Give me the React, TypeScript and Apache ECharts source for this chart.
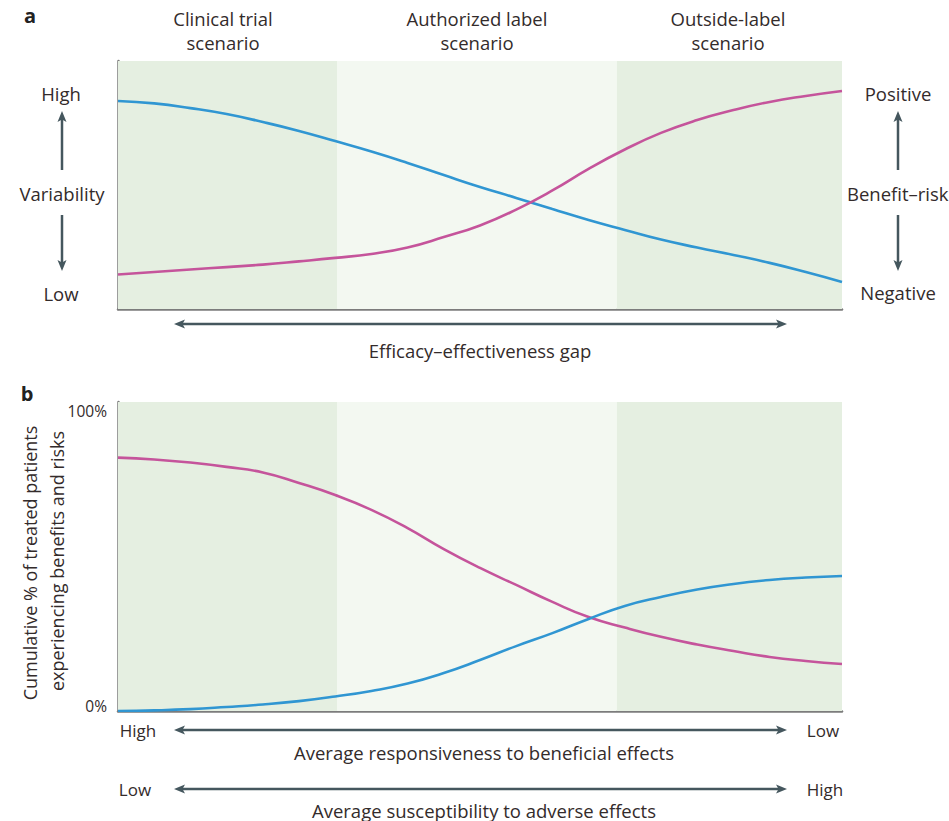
import React, { useEffect, useRef } from "react";
import * as echarts from "echarts";

// shared x positions (0 = left edge of plot, 100 = right edge)
const xs = [0, 5, 10, 15, 20, 25, 30, 35, 40, 45, 50, 55, 60, 65, 70, 75, 80, 85, 90, 95, 100];

// Panel a
const benefitRiskA = [83.9, 82.9, 81.0, 78.6, 75.4, 71.8, 67.7, 63.5, 58.9, 54.0, 49.2, 44.8, 40.3, 35.9, 31.9, 28.0, 24.8, 21.8, 18.6, 14.9, 10.9];
const variabilityA = [13.9, 14.9, 15.9, 16.9, 17.9, 19.2, 20.6, 22.2, 24.8, 29.0, 33.7, 40.1, 47.8, 56.5, 64.3, 71.0, 76.2, 80.2, 83.5, 85.9, 87.9];

// Panel b (% of treated patients)
const benefitsB = [82.0, 81.4, 80.4, 79.0, 77.2, 73.8, 69.9, 65.1, 59.2, 52.4, 46.3, 40.8, 35.3, 30.4, 27.0, 24.0, 21.5, 19.4, 17.5, 16.2, 15.2];
const risksB = [0, 0.2, 0.6, 1.3, 2.1, 3.2, 4.7, 6.5, 8.9, 12.3, 16.5, 21.0, 25.2, 29.8, 34.0, 36.9, 39.3, 41.1, 42.4, 43.2, 43.7];

// scenario bands (x range)
const bandEdges = [0, 30.25, 68.9, 100];
const scenarios = [["Clinical trial", "scenario"], ["Authorized label", "scenario"], ["Outside-label", "scenario"]];
const yTicksB = [0, 100];

const TEXT = "#332b2b";
const ARROW = "#45575e";
const AXIS = "#7c7c7c";
const BLUE = "#3096d2";
const PINK = "#c5549b";
const BAND_DARK = "#e5efe1";
const BAND_LIGHT = "#f3f8f1";
const FONT = "'Open Sans', Lato, sans-serif";

const pairs = (ys: number[]) => xs.map((x, i) => [x, ys[i]]);

function txt(text: string, x: number, y: number, opts: any = {}) {
  return {
    type: "text",
    x,
    y,
    rotation: opts.rotation || 0,
    style: {
      text,
      fill: opts.fill || TEXT,
      font: `${opts.weight || "normal"} ${opts.size || 18.5}px ${FONT}`,
      textAlign: opts.align || "center",
      textVerticalAlign: "middle",
    },
  };
}

function head(tx: number, ty: number, dx: number, dy: number) {
  const L = 11, W = 4.5;
  const bx = tx - dx * L, by = ty - dy * L;
  const px = -dy, py = dx;
  return {
    type: "polygon",
    shape: { points: [[tx, ty], [bx + px * W, by + py * W], [bx + dx * 2.5, by + dy * 2.5], [bx - px * W, by - py * W]] },
    style: { fill: ARROW },
  };
}

function vArrow(x: number, yFrom: number, yTip: number) {
  const d = yTip > yFrom ? 1 : -1;
  return [
    { type: "line", shape: { x1: x, y1: yFrom, x2: x, y2: yTip - d * 6 }, style: { stroke: ARROW, lineWidth: 2.5 } },
    head(x, yTip, 0, d),
  ];
}

function hDouble(x1: number, x2: number, y: number) {
  return [
    { type: "line", shape: { x1: x1 + 6, y1: y, x2: x2 - 6, y2: y }, style: { stroke: ARROW, lineWidth: 2.5 } },
    head(x1, y, -1, 0),
    head(x2, y, 1, 0),
  ];
}

function bandArea() {
  const cols = [BAND_DARK, BAND_LIGHT, BAND_DARK];
  return {
    silent: true,
    data: cols.map((c, i) => [
      { xAxis: bandEdges[i], itemStyle: { color: c } },
      { xAxis: bandEdges[i + 1] },
    ]),
  };
}

export default function App() {
  const ref = useRef<HTMLDivElement>(null);
  useEffect(() => {
    if (!ref.current) return;
    const chart = echarts.init(ref.current, null, { renderer: "svg" });
    const axisLine = { show: true, lineStyle: { color: AXIS, width: 2.5 } };
    const xAxisBase = {
      type: "value",
      min: 0,
      max: 100,
      axisLine: { ...axisLine, onZero: false },
      axisTick: { show: false },
      axisLabel: { show: false },
      splitLine: { show: false },
    };
    const lineSeries = (name: string, data: number[], color: string, idx: number) => ({
      name,
      type: "line",
      xAxisIndex: idx,
      yAxisIndex: idx,
      data: pairs(data),
      smooth: 0.5,
      showSymbol: false,
      lineStyle: { color, width: 2.6 },
      z: 3,
    });

    const scenarioCx = [223, 477, 728];
    const scenarioText = scenarios.flatMap((s, i) => [
      txt(s[0], scenarioCx[i], 18),
      txt(s[1], scenarioCx[i], 42),
    ]);

    const graphic: any[] = [
      txt("a", 30, 15, { weight: "bold", size: 20, fill: "#222" }),
      txt("b", 27, 393, { weight: "bold", size: 20, fill: "#222" }),
      ...scenarioText,
      // panel a left scale
      txt("High", 61, 93),
      ...vArrow(62, 170, 111),
      txt("Variability", 62, 193),
      ...vArrow(62, 215, 271),
      txt("Low", 61, 293),
      // panel a right scale
      txt("Positive", 898, 93),
      ...vArrow(898, 170, 111),
      txt("Benefit\u2013risk", 847, 193, { align: "left" }),
      ...vArrow(898, 215, 271),
      txt("Negative", 898, 292),
      // series labels
      txt("Benefit\u2013risk", 146, 93, { align: "left" }),
      txt("Variability", 146, 252, { align: "left" }),
      txt("Benefits", 162, 442, { align: "left" }),
      txt("Risks", 833, 560, { align: "right" }),
      // gap arrow
      ...hDouble(174, 787, 324),
      txt("Efficacy\u2013effectiveness gap", 480, 350),
      // y title b
      txt("Cumulative % of treated patients", 30, 563, { rotation: Math.PI / 2, size: 18 }),
      txt("experiencing benefits and risks", 57, 561, { rotation: Math.PI / 2, size: 18 }),
      // bottom scales
      txt("High", 138, 730, { size: 17 }),
      ...hDouble(174, 787, 730),
      txt("Low", 823, 730, { size: 17 }),
      txt("Average responsiveness to beneficial effects", 484, 752),
      txt("Low", 135, 789, { size: 17 }),
      ...hDouble(174, 787, 789),
      txt("High", 825, 789, { size: 17 }),
      txt("Average susceptibility to adverse effects", 484, 810),
    ];

    chart.setOption({
      animation: false,
      backgroundColor: "#ffffff",
      textStyle: { fontFamily: FONT },
      grid: [
        { left: 118, top: 61, width: 724, height: 248 },
        { left: 118, top: 402, width: 724, height: 309 },
      ],
      xAxis: [
        { ...xAxisBase, gridIndex: 0 },
        { ...xAxisBase, gridIndex: 1 },
      ],
      yAxis: [
        {
          type: "value",
          gridIndex: 0,
          min: 0,
          max: 100,
          axisLine,
          axisTick: { show: false },
          axisLabel: { show: false },
          splitLine: { show: false },
        },
        {
          type: "value",
          gridIndex: 1,
          min: yTicksB[0],
          max: yTicksB[1],
          interval: 100,
          axisLine,
          axisTick: { show: false },
          splitLine: { show: false },
          axisLabel: {
            margin: 11,
            color: TEXT,
            fontFamily: FONT,
            fontSize: 15.5,
            formatter: (v: number) => (v === 100 ? `{t|${v}%}` : `{b|${v}%}`),
            rich: {
              t: { padding: [18, 0, 0, 0], fontSize: 15.5, color: TEXT, fontFamily: FONT },
              b: { padding: [0, 0, 10, 0], fontSize: 15.5, color: TEXT, fontFamily: FONT },
            },
          },
        },
      ],
      series: [
        { ...lineSeries("Benefit\u2013risk", benefitRiskA, BLUE, 0), markArea: bandArea() },
        lineSeries("Variability", variabilityA, PINK, 0),
        { ...lineSeries("Benefits", benefitsB, PINK, 1), markArea: bandArea() },
        lineSeries("Risks", risksB, BLUE, 1),
      ],
      graphic,
    });
    return () => chart.dispose();
  }, []);
  return (
    <div
      ref={ref}
      style={{ position: "fixed", left: 0, top: 0, width: 949, height: 821, background: "#fff" }}
    />
  );
}
